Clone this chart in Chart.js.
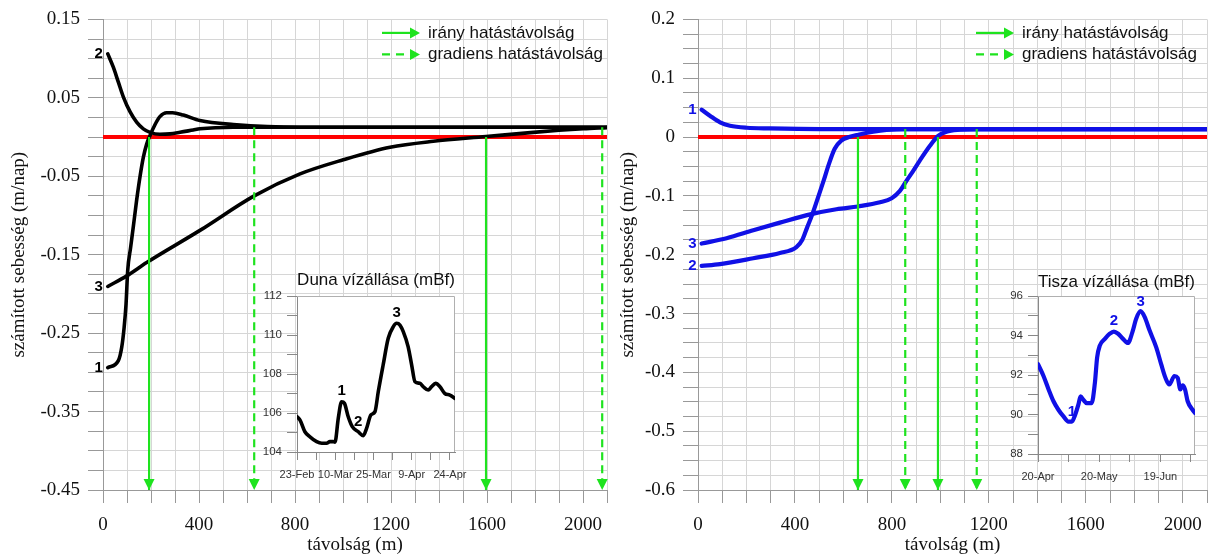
<!DOCTYPE html>
<html>
<head>
<meta charset="utf-8">
<script src="https://cdn.jsdelivr.net/npm/chart.js@4.4.0/dist/chart.umd.min.js"></script>
<style>
  body { margin: 0; background: #fff; }
  #wrap { position: relative; width: 1209px; height: 556px; overflow: hidden; }
  canvas { position: absolute; }
</style>
</head>
<body>
<div id="wrap">
  <canvas id="dunaMain" width="615" height="556" style="left:0;top:0"></canvas>
  <canvas id="tiszaMain" width="597" height="556" style="left:612px;top:0"></canvas>
  <canvas id="dunaInset" width="235" height="224" style="left:255px;top:268px"></canvas>
  <canvas id="tiszaInset" width="209" height="224" style="left:1000px;top:270px"></canvas>
</div>
<script>
(function () {
    "use strict";

    // Duna - számított sebesség (m/nap) a távolság (m) függvényében
    const dunaDist1 = [20, 64, 78, 88, 96, 103, 115, 126, 140, 154, 168, 182, 196, 217, 237, 265, 290, 335, 404, 543, 821, 2100];
    const dunaVel1 = [-0.294, -0.285, -0.268, -0.243, -0.213, -0.170, -0.141, -0.115, -0.081, -0.051, -0.026, -0.009, 0.002, 0.016, 0.026, 0.031, 0.031, 0.028, 0.021, 0.016, 0.0125, 0.0125];
    const dunaDist2 = [20, 43, 64, 85, 113, 140, 168, 196, 237, 279, 321, 376, 404, 543, 2100];
    const dunaVel2 = [0.106, 0.089, 0.070, 0.051, 0.032, 0.019, 0.0105, 0.006, 0.0035, 0.004, 0.006, 0.009, 0.0105, 0.0125, 0.0125];
    const dunaDist3 = [20, 99, 182, 404, 630, 821, 1001, 1196, 1376, 1596, 1793, 2001, 2100];
    const dunaVel3 = [-0.1905, -0.177, -0.160, -0.119, -0.075, -0.047, -0.029, -0.013, -0.0054, 0.0006, 0.006, 0.0105, 0.012];
    const dunaIranyDist = [192, 1596];
    const dunaIranyFrom = [0, 0];
    const dunaGradDist = [630, 2080];
    const dunaGradFrom = [0.0125, 0.0125];

    // Tisza
    const tiszaDist1 = [15, 49, 91, 132, 201, 297, 503, 2100];
    const tiszaVel1 = [0.0465, 0.0363, 0.025, 0.0193, 0.0158, 0.0147, 0.0136, 0.0135];
    const tiszaDist2 = [15, 91, 228, 338, 406, 431, 450, 472, 495, 518, 540, 564, 591, 627, 661, 723, 778, 854, 2100];
    const tiszaVel2 = [-0.219, -0.216, -0.206, -0.197, -0.187, -0.174, -0.154, -0.131, -0.103, -0.0745, -0.046, -0.020, -0.006, 0.0005, 0.004, 0.009, 0.012, 0.0136, 0.0136];
    const tiszaDist3 = [15, 118, 228, 338, 468, 571, 660, 751, 799, 833, 860, 888, 915, 957, 991, 1025, 1080, 1149, 2100];
    const tiszaVel3 = [-0.181, -0.172, -0.1585, -0.1455, -0.131, -0.1227, -0.118, -0.111, -0.104, -0.0915, -0.0744, -0.0574, -0.040, -0.0148, 0.002, 0.009, 0.0124, 0.0136, 0.0136];
    const tiszaIranyDist = [660, 990];
    const tiszaIranyFrom = [0, 0];
    const tiszaGradDist = [855, 1150];
    const tiszaGradFrom = [0.0136, 0.0136];

    // vízállás (mBf), napok az első dátumtól
    const dunaDays = [0, 1.2, 3.1, 5.1, 7.7, 9.7, 11.6, 12.9, 14.2, 14.9, 16.2, 17.5, 18.6, 20.1, 21.7, 24.0, 26.0, 27.3, 29.0, 30.6, 31.9, 33.8, 35.8, 37.8, 39.1, 40.4, 41.7, 43.6, 45.0, 46.3, 48.2, 49.5, 51.5, 52.8, 54.4, 56.1, 58.0, 60.0, 62.0];
    const dunaLevel = [105.81, 105.64, 105.04, 104.78, 104.53, 104.45, 104.45, 104.53, 104.53, 104.5, 105.73, 106.58, 106.5, 105.81, 105.3, 105.04, 104.84, 105.21, 105.9, 106.07, 107.1, 108.46, 109.83, 110.43, 110.6, 110.51, 110.17, 109.4, 108.46, 107.6, 107.52, 107.35, 107.18, 107.35, 107.52, 107.35, 107.0, 106.92, 106.75];
    const dunaDateLabels = ["23-Feb", "10-Mar", "25-Mar", "9-Apr", "24-Apr"];
    const tiszaDays = [0, 2.7, 5.2, 7.6, 10.0, 12.5, 14.9, 16.6, 18.2, 19.8, 20.9, 22.2, 23.9, 26.3, 27.9, 29.0, 30.3, 32.8, 35.2, 37.2, 39.3, 41.7, 44.1, 46.3, 48.2, 50.3, 52.3, 54.7, 58.0, 60.4, 62.5, 64.4, 66.9, 68.5, 69.8, 70.9, 72.1, 73.4, 75.8, 77.0];
    const tiszaLevel = [92.55, 91.95, 91.27, 90.67, 90.24, 89.9, 89.64, 89.64, 89.98, 90.5, 90.92, 90.75, 90.58, 90.58, 91.6, 92.89, 93.49, 93.83, 94.09, 94.2, 94.09, 93.83, 93.62, 94.17, 94.86, 95.23, 94.94, 94.26, 93.4, 92.55, 91.86, 91.52, 91.95, 91.86, 91.27, 91.47, 91.27, 90.67, 90.24, 90.07];
    const tiszaDateLabels = ["20-Apr", "20-May", "19-Jun"];

    const serif = "'Liberation Serif', 'Times New Roman', serif";
    const sans = "'Liberation Sans', Arial, sans-serif";
    const GREEN = "#1ee31e";
    const BLUE = "#1010e6";
    const RED = "#ff0000";
    const GRID = "#d6d6d6";

    Chart.defaults.animation = false;
    Chart.defaults.font.family = sans;
    Chart.defaults.plugins.legend.display = false;
    Chart.defaults.plugins.tooltip.enabled = false;

    // plot background / frame
    const plotBox = {
        id: "plotBox",
        beforeDraw(chart, args, opts) {
            if (!opts.fill) return;
            const { ctx, chartArea: a } = chart;
            ctx.save();
            ctx.fillStyle = opts.fill;
            ctx.fillRect(a.left, a.top, a.width, a.height);
            ctx.restore();
        },
        beforeDatasetsDraw(chart, args, opts) {
            if (!opts.frame) return;
            const { ctx, chartArea: a } = chart;
            ctx.save();
            ctx.strokeStyle = opts.frame;
            ctx.lineWidth = 1;
            ctx.beginPath();
            ctx.moveTo(a.left, a.top + 0.5);
            ctx.lineTo(a.right - 0.5, a.top + 0.5);
            ctx.lineTo(a.right - 0.5, a.bottom);
            ctx.stroke();
            ctx.restore();
        },
    };

    // arrow heads at the end of the green lines, and curve numbers
    const marks = {
        id: "marks",
        afterDatasetsDraw(chart) {
            const ctx = chart.ctx;
            chart.data.datasets.forEach((ds, i) => {
                const pts = chart.getDatasetMeta(i).data;
                if (ds.arrowHead) {
                    const tip = pts[pts.length - 1];
                    ctx.save();
                    ctx.fillStyle = ds.borderColor;
                    ctx.beginPath();
                    ctx.moveTo(tip.x, tip.y);
                    ctx.lineTo(tip.x - 5.5, tip.y - 11);
                    ctx.lineTo(tip.x + 5.5, tip.y - 11);
                    ctx.closePath();
                    ctx.fill();
                    ctx.restore();
                }
                (ds.tags || []).forEach((t) => {
                    const p = pts[t.i];
                    ctx.save();
                    ctx.font = "bold 15px " + sans;
                    ctx.fillStyle = ds.borderColor;
                    ctx.textAlign = t.align || "center";
                    ctx.textBaseline = "middle";
                    ctx.fillText(t.text, p.x + (t.dx || 0), p.y + (t.dy || 0));
                    ctx.restore();
                });
            });
        },
    };

    // legend with arrows
    const arrowLegend = {
        id: "arrowLegend",
        afterDraw(chart, args, opts) {
            if (!opts.items) return;
            const { ctx, chartArea: a } = chart;
            const textX = a.right - opts.textRight;
            opts.items.forEach((it, k) => {
                const y = a.top + 13.5 + k * 21.5;
                const x0 = textX - 46;
                const tip = textX - 8;
                ctx.save();
                ctx.strokeStyle = GREEN;
                ctx.lineWidth = 2.2;
                ctx.setLineDash(it.dash ? [8, 6] : []);
                ctx.beginPath();
                ctx.moveTo(x0, y);
                ctx.lineTo(tip - 9, y);
                ctx.stroke();
                ctx.setLineDash([]);
                ctx.fillStyle = GREEN;
                ctx.beginPath();
                ctx.moveTo(tip, y);
                ctx.lineTo(tip - 10, y - 5.5);
                ctx.lineTo(tip - 10, y + 5.5);
                ctx.closePath();
                ctx.fill();
                ctx.fillStyle = "#111";
                ctx.font = "17px " + sans;
                ctx.textBaseline = "middle";
                ctx.fillText(it.text, textX, y);
                ctx.restore();
            });
        },
    };

    function curve(xs, ys, color, width, tags) {
        return {
            data: xs.map((x, i) => ({ x: x, y: ys[i] })),
            borderColor: color,
            borderWidth: width,
            pointRadius: 0,
            cubicInterpolationMode: "monotone",
            borderJoinStyle: "round",
            borderCapStyle: "round",
            tags: tags,
        };
    }

    function arrows(xs, froms, yEnd, dashed) {
        return xs.map((x, i) => ({
            data: [{ x: x, y: froms[i] }, { x: x, y: yEnd }],
            borderColor: GREEN,
            borderWidth: 2.2,
            pointRadius: 0,
            borderDash: dashed ? [8, 5] : [],
            arrowHead: true,
        }));
    }

    function mainChart(id, c) {
        const datasets = []
            .concat(arrows(c.iranyDist, c.iranyFrom, c.yMin, false))
            .concat(arrows(c.gradDist, c.gradFrom, c.yMin, true))
            .concat(c.curves)
            .concat([{
                data: [{ x: 0, y: 0 }, { x: 2100, y: 0 }],
                borderColor: RED,
                borderWidth: 4,
                pointRadius: 0,
            }]);
        return new Chart(document.getElementById(id), {
            type: "line",
            data: { datasets: datasets },
            options: {
                responsive: false,
                layout: { padding: { top: 19, right: c.padRight, left: 0, bottom: 0 } },
                plugins: {
                    arrowLegend: {
                        textRight: c.legendRight,
                        items: [
                            { text: "irány hatástávolság", dash: false },
                            { text: "gradiens hatástávolság", dash: true },
                        ],
                    },
                },
                scales: {
                    x: {
                        type: "linear",
                        min: 0,
                        max: 2100,
                        afterFit: (s) => {
                            s.height = 66;
                            s.paddingRight = 0;
                        },
                        ticks: {
                            stepSize: 100,
                            autoSkip: false,
                            maxRotation: 0,
                            padding: 11,
                            color: "#111",
                            font: { family: serif, size: 19 },
                            callback: (v) => (v % 400 === 0 ? String(v) : ""),
                        },
                        grid: { color: GRID, tickColor: "#999", tickLength: 13 },
                        border: { color: "#999" },
                        title: {
                            display: true,
                            text: "távolság (m)",
                            color: "#111",
                            font: { family: serif, size: 19, lineHeight: 1 },
                            padding: { top: 0, bottom: 1 },
                        },
                    },
                    y: {
                        type: "linear",
                        min: c.yMin,
                        max: c.yMax,
                        afterFit: (s) => { s.width = c.yWidth; },
                        ticks: {
                            stepSize: 0.025,
                            maxTicksLimit: 100,
                            autoSkip: false,
                            padding: 8,
                            color: "#111",
                            font: { family: serif, size: 19 },
                            callback: c.yLabel,
                        },
                        grid: { color: GRID, tickColor: "#999", tickLength: 15 },
                        border: { color: "#999" },
                        title: {
                            display: true,
                            text: "számított sebesség (m/nap)",
                            color: "#111",
                            font: { family: serif, size: 19, lineHeight: 1 },
                            padding: { top: c.titlePad, bottom: 0 },
                        },
                    },
                },
            },
            plugins: [marks, arrowLegend],
        });
    }

    function insetChart(id, c) {
        return new Chart(document.getElementById(id), {
            type: "line",
            data: { datasets: [curve(c.days, c.level, c.color, c.width, c.tags)] },
            options: {
                responsive: false,
                layout: { padding: { top: 0, right: c.padRight, left: 0, bottom: 0 } },
                plugins: {
                    plotBox: { fill: "#ffffff", frame: "#b0b0b0" },
                    title: {
                        display: true,
                        fullSize: false,
                        text: c.title,
                        color: "#111",
                        font: { family: sans, size: 17, weight: "normal", lineHeight: 1.2 },
                        padding: { top: 2, bottom: c.titleGap },
                    },
                },
                scales: {
                    x: {
                        type: "linear",
                        min: 0,
                        max: c.xMax,
                        afterFit: (s) => {
                            s.height = 40;
                            s.paddingRight = 0;
                        },
                        ticks: {
                            stepSize: c.xStep,
                            includeBounds: false,
                            autoSkip: false,
                            maxRotation: 0,
                            padding: 8,
                            color: "#333",
                            font: { family: sans, size: 11 },
                            callback: (v) => (v % c.labelEvery === 0 ? c.dateLabels[v / c.labelEvery] || "" : ""),
                        },
                        grid: { drawOnChartArea: false, tickColor: "#888", tickLength: 8 },
                        border: { color: "#888" },
                    },
                    y: {
                        type: "linear",
                        min: c.yMin,
                        max: c.yMax,
                        afterFit: (s) => { s.width = c.yWidth; },
                        ticks: {
                            stepSize: 1,
                            autoSkip: false,
                            padding: 5,
                            color: "#333",
                            font: { family: sans, size: 11.5 },
                            callback: (v) => (v % 2 === 0 ? String(v) : ""),
                        },
                        grid: { drawOnChartArea: false, tickColor: "#888", tickLength: 10 },
                        border: { color: "#888" },
                    },
                },
            },
            plugins: [plotBox, marks],
        });
    }

    const mainTag = (t) => [{ i: 0, text: t, align: "right", dx: -5, dy: 0 }];

    mainChart("dunaMain", {
        yMin: -0.45,
        yMax: 0.15,
        yWidth: 103,
        padRight: 8,
        titlePad: 9.5,
        legendRight: 179,
        yLabel: (v) => {
            const m = Math.round(v * 1000);
            return (m + 450) % 100 === 0 ? v.toFixed(2) : "";
        },
        iranyDist: dunaIranyDist,
        iranyFrom: dunaIranyFrom,
        gradDist: dunaGradDist,
        gradFrom: dunaGradFrom,
        curves: [
            curve(dunaDist1, dunaVel1, "#000", 3.6, mainTag("1")),
            curve(dunaDist2, dunaVel2, "#000", 3.6, mainTag("2")),
            curve(dunaDist3, dunaVel3, "#000", 3.6, mainTag("3")),
        ],
    });

    mainChart("tiszaMain", {
        yMin: -0.6,
        yMax: 0.2,
        yWidth: 86,
        padRight: 2,
        titlePad: 6.5,
        legendRight: 185,
        yLabel: (v) => {
            const m = Math.round(v * 1000);
            return m % 100 === 0 ? String(m / 1000) : "";
        },
        iranyDist: tiszaIranyDist,
        iranyFrom: tiszaIranyFrom,
        gradDist: tiszaGradDist,
        gradFrom: tiszaGradFrom,
        curves: [
            curve(tiszaDist1, tiszaVel1, BLUE, 4.2, mainTag("1")),
            curve(tiszaDist2, tiszaVel2, BLUE, 4.2, mainTag("2")),
            curve(tiszaDist3, tiszaVel3, BLUE, 4.2, mainTag("3")),
        ],
    });

    insetChart("dunaInset", {
        title: "Duna vízállása (mBf)",
        days: dunaDays,
        level: dunaLevel,
        dateLabels: dunaDateLabels,
        color: "#000",
        width: 3.6,
        xMax: 62,
        xStep: 7.5,
        labelEvery: 15,
        yMin: 104,
        yMax: 112,
        yWidth: 42,
        padRight: 35,
        titleGap: 5.6,
        tags: [
            { i: 11, text: "1", dy: -11 },
            { i: 15, text: "2", dy: -10 },
            { i: 24, text: "3", dy: -10 },
        ],
    });

    insetChart("tiszaInset", {
        title: "Tisza vízállása (mBf)",
        days: tiszaDays,
        level: tiszaLevel,
        dateLabels: tiszaDateLabels,
        color: BLUE,
        width: 4.2,
        xMax: 77,
        xStep: 15,
        labelEvery: 30,
        yMin: 88,
        yMax: 96,
        yWidth: 38,
        padRight: 14,
        titleGap: 3.6,
        tags: [
            { i: 7, text: "1", dy: -10 },
            { i: 19, text: "2", dy: -11 },
            { i: 25, text: "3", dy: -9 },
        ],
    });
})();
</script>
</body>
</html>
